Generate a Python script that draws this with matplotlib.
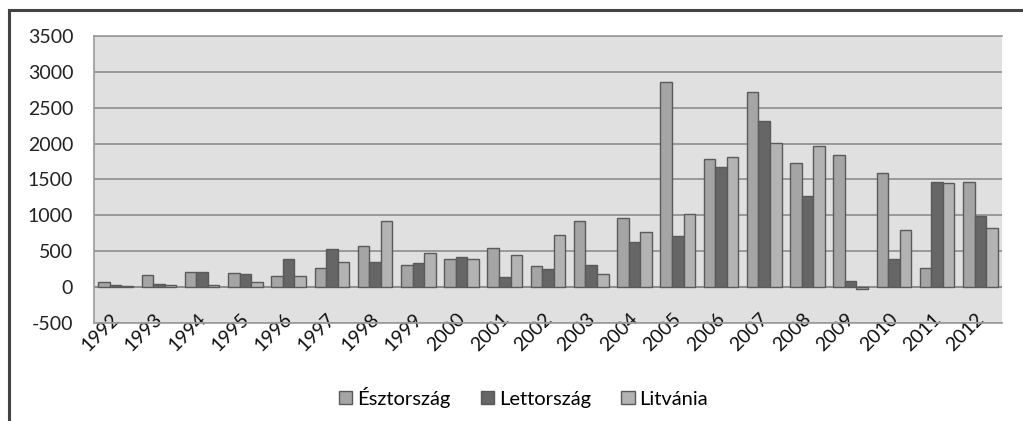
import matplotlib.pyplot as plt
import numpy as np
from matplotlib.lines import Line2D
from matplotlib.transforms import ScaledTranslation

plt.rcParams['font.family'] = ['Lato', 'DejaVu Sans']
plt.rcParams['axes.unicode_minus'] = False

years = [str(y) for y in range(1992, 2013)]
esztorszag = [78, 171, 217, 195, 157, 265, 571, 311, 390, 543, 292, 928,
              961, 2864, 1791, 2725, 1736, 1843, 1592, 265, 1467]
lettorszag = [32, 46, 217, 186, 390, 529, 357, 343, 418, 139, 251, 311,
              635, 715, 1672, 2321, 1272, 92, 390, 1467, 998]
litvania = [15, 32, 32, 78, 157, 357, 928, 482, 390, 446, 728, 185,
            775, 1021, 1811, 2014, 1964, -20, 802, 1453, 830]

fig = plt.figure(figsize=(10.23, 4.21), dpi=100)
ax = fig.add_axes([0.0919, 0.2328, 0.8876, 0.6817])
ax.set_facecolor('#e0e0e0')

x = np.arange(len(years))
w = 0.267
edge = '#5a5a5a'
ax.bar(x - w, esztorszag, w, color='#a5a5a5', edgecolor=edge, linewidth=1, label='Észtország', zorder=3)
ax.bar(x, lettorszag, w, color='#666666', edgecolor=edge, linewidth=1, label='Lettország', zorder=3)
ax.bar(x + w, litvania, w, color='#b3b3b3', edgecolor=edge, linewidth=1, label='Litvánia', zorder=3)

ax.set_xlim(-0.5, len(years) - 0.5)
ax.set_ylim(-500, 3500)
ax.set_yticks(range(-500, 3501, 500))
ax.yaxis.grid(True, color='#8c8c8c', linewidth=1.2, zorder=0)
ax.set_axisbelow(True)
ax.axhline(0, color='#8c8c8c', linewidth=1.2, zorder=2)

ax.set_xticks(x)
ax.set_xticklabels(years, rotation=45, ha='right', rotation_mode='anchor')
ax.tick_params(axis='x', length=0, pad=-9, labelsize=14, labelcolor='#111111')
ax.tick_params(axis='y', length=0, pad=15, labelsize=14, labelcolor='#222222')
shift = ScaledTranslation(-5 / 100, 0, fig.dpi_scale_trans)
for lbl in ax.get_xticklabels():
    lbl.set_transform(lbl.get_transform() + shift)

for s in ['left', 'bottom', 'top']:
    ax.spines[s].set_color('#9a9a9a')
    ax.spines[s].set_linewidth(1.2)
ax.spines['right'].set_visible(False)

handles = [
    plt.Rectangle((0, 0), 1, 1, facecolor='#a5a5a5', edgecolor=edge),
    plt.Rectangle((0, 0), 1, 1, facecolor='#666666', edgecolor=edge),
    plt.Rectangle((0, 0), 1, 1, facecolor='#b3b3b3', edgecolor=edge),
]
fig.legend(handles, ['Észtország', 'Lettország', 'Litvánia'], loc='center',
           bbox_to_anchor=(0.512, 0.057), ncol=3, frameon=False,
           fontsize=14.5, handlelength=0.65, handleheight=0.65,
           handletextpad=0.25, columnspacing=1.5)

# outer frame (top and left only)
fig.add_artist(Line2D([0.009, 1.0], [0.977, 0.977], color='#444444', linewidth=2.2))
fig.add_artist(Line2D([0.009, 0.009], [0.0, 0.977], color='#444444', linewidth=2.2))

fig.savefig('out.png', dpi=100)
